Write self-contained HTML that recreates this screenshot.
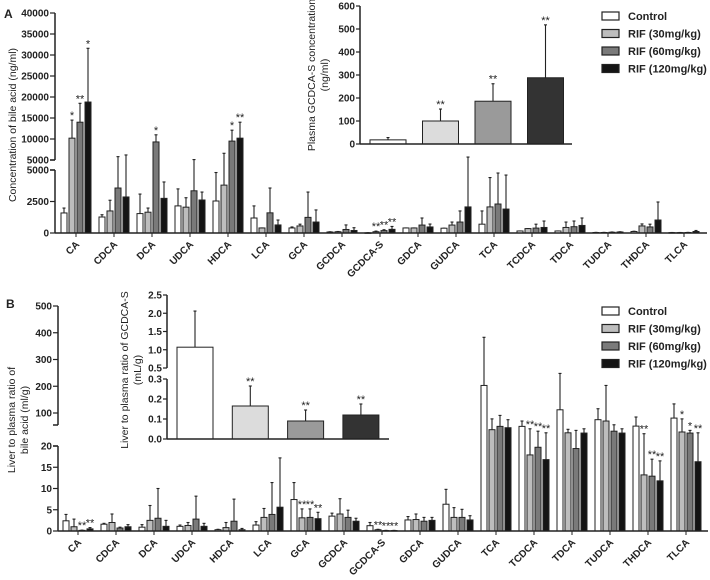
<!DOCTYPE html>
<html><head><meta charset="utf-8"><style>
body{margin:0;background:#fff;}
svg{display:block;font-family:"Liberation Sans",Arial,sans-serif;}
text{fill:#222;}
.tk{font-size:10px;font-weight:bold;text-anchor:end;}
.cat{font-size:10px;font-weight:bold;}
.lg{font-size:11px;font-weight:bold;}
.ttl{font-size:10.5px;}
</style></head><body>
<svg id="chart" width="710" height="580">
<text x="4" y="18" style="font-size:12px;font-weight:bold">A</text>
<text x="6" y="308" style="font-size:12px;font-weight:bold">B</text>
<g id="g"></g>
</svg>
<script>
const categories=["CA","CDCA","DCA","UDCA","HDCA","LCA","GCA","GCDCA","GCDCA-S","GDCA","GUDCA","TCA","TCDCA","TDCA","TUDCA","THDCA","TLCA"];
const groups=["Control","RIF (30mg/kg)","RIF (60mg/kg)","RIF (120mg/kg)"];
// Panel A plasma concentrations (ng/ml): mean and mean+SD per group
const aCtrl=[1590,1270,1540,2150,2540,1190,400,80,15,400,380,700,160,160,40,120,30];
const aCtrlErr=[1980,1450,3090,3500,4800,2150,480,100,25,400,380,1750,160,160,50,140,40];
const a30=[10200,1750,1650,2050,3800,400,560,100,100,400,630,2070,350,440,40,560,30];
const a30Err=[14500,2600,1980,2800,6600,400,700,120,150,400,870,4400,350,870,50,720,40];
const a60=[14000,3570,9300,3350,9500,1600,1240,280,190,630,870,2300,390,500,60,480,40];
const a60Err=[18500,5800,11000,5100,12100,3570,3250,640,260,1190,1750,4760,700,950,80,700,50];
const a120=[18800,2860,2750,2620,10200,640,870,200,290,480,2070,1900,440,600,80,1030,120];
const a120Err=[31600,6200,4050,3250,14000,1030,1830,420,520,710,5700,4600,950,1190,100,2460,200];
const aStars=[["","*","**","*"],["","","",""],["","","*",""],["","","",""],["","","*","**"],["","","",""],["","","",""],["","","",""],["","**","**","**"],["","","",""],["","","",""],["","","",""],["","","",""],["","","",""],["","","",""],["","","",""],["","","",""]];
// Panel B liver/plasma ratio (ml/g)
const bCtrl=[2.4,1.6,0.9,1.1,0.3,1.4,7.4,3.5,1.25,2.6,6.3,203,50,112,75,51,81];
const bCtrlErr=[3.9,1.8,1.5,1.4,0.4,2.2,11.4,4.2,2.0,3.4,9.8,383,70,248,116,85,134];
const b30=[1.0,2.0,2.5,1.3,0.8,3.2,3.1,4.0,0.3,2.7,3.2,37.6,17.9,26,70,13.2,29];
const b30Err=[2.8,4.0,6.0,2.0,2.0,5.3,5.2,7.6,0.4,4.0,5.5,78,41,39,203,22.6,78];
const b60=[0.15,0.7,3.0,2.8,2.3,3.9,3.2,3.2,0.1,2.3,3.2,50,19.7,19.4,32,12.9,25];
const b60Err=[0.2,0.9,10.0,8.2,7.5,11.4,5.2,4.9,0.15,3.2,5.1,91,32,35,56,16.9,35];
const b120=[0.5,1.0,1.1,1.1,0.3,5.6,2.9,2.3,0.1,2.5,2.6,45,16.8,25,25,11.8,16.3];
const b120Err=[0.8,1.5,2.5,1.8,0.6,17.2,4.4,3.0,0.15,3.2,3.6,75,26,41,41,16.5,26];
const bStars=[["","","**","**"],["","","",""],["","","",""],["","","",""],["","","",""],["","","",""],["","**","**","**"],["","","",""],["","**","**","**"],["","","",""],["","","",""],["","","",""],["","**","**","**"],["","","",""],["","","",""],["","**","**","**"],["","*","*","**"]];
// Inset A: plasma GCDCA-S (ng/ml)
const insA=[18,100,186,288];
const insAErr=[28,152,262,518];
const insAStars=["","**","**","**"];
const insATicks=[0,100,200,300,400,500,600];
// Inset B: liver to plasma ratio of GCDCA-S (mL/g)
const insB=[1.07,0.165,0.09,0.12];
const insBErr=[2.06,0.265,0.145,0.175];
const insBStars=["","**","**","**"];
const insBTicksLow=[0.0,0.1,0.2,0.3];
const insBTicksHigh=[0.5,1.0,1.5,2.0,2.5];
const aTicksLow=[0,2500,5000];
const aTicksHigh=[5000,10000,15000,20000,25000,30000,35000,40000];
const bTicksLow=[0,5,10,15,20];
const bTicksHigh=[100,200,300,400,500];

const NS="http://www.w3.org/2000/svg";
const G=document.getElementById('g');
function mk(tag,attrs,parent){const e=document.createElementNS(NS,tag);for(const k in attrs)e.setAttribute(k,attrs[k]);(parent||G).appendChild(e);return e;}
const mainFill=["#ffffff","#bdbdbd","#7a7a7a","#141414"];
const insFill=["#ffffff","#dcdcdc","#9a9a9a","#333333"];

// axis functions
function yA(v){return v<=5000?233-v*63/5000:160-(v-5000)*147/35000;}
function yB(v){return v<=20?531-v*85/20:434.4-(v-20)*0.2675;}
function yIA(v){return 144-v*138/600;}
function yIB(v){return v<=0.3?439-v*200:368-(v-0.5)*36.5;}
function xCat(i,x0){return x0+i*38;}

function line(x1,y1,x2,y2,name,w){const l=mk('line',{x1,y1,x2,y2,stroke:'#222','stroke-width':w||1.2});return l;}
function txt(x,y,s,cls,name,extra){const t=mk('text',Object.assign({x,y,class:cls},extra||{}));t.textContent=s;return t;}

function drawBar(x,w,yTop,yBase,yErr,fill,name,star){
  line(x+w/2,yTop,x+w/2,yErr,name+'-error',1.1);
  line(x+w/2-1.5,yErr,x+w/2+1.5,yErr,name+'-cap',1.1);
  const r=mk('rect',{x,y:yTop,width:w,height:Math.max(0.5,yBase-yTop),fill,stroke:'#222','stroke-width':1});
  
  
  if(star){const t=txt(x+w/2,yErr-1,star,'','sig-star',{'text-anchor':'middle','font-size':'11'});}
}

function mainPanel(pre,series,errs,stars,yf,base,x0,axisX,axisEnd,lowTicks,highTicks,breakLow,breakHigh,labY){
  for(let i=0;i<categories.length;i++){
    const c=xCat(i,x0);
    for(let g=0;g<4;g++){
      const x=c-16+g*8+1;
      drawBar(x,6,yf(series[g][i]),base,yf(errs[g][i]),mainFill[g],pre+'-bar-'+categories[i].toLowerCase()+'-g'+g,stars[i][g]);
    }
    line(c,base,c,base+4,pre+'-x-tick',1);
    txt(c+4,base+12,categories[i],'cat',pre+'-category-label',{'text-anchor':'end',transform:`rotate(-45 ${c+4} ${base+12})`});
  }
  line(axisX,base,axisEnd,base,pre+'-x-axis',1.5);
  line(axisX,base,axisX,breakLow,pre+'-y-axis-lower',1.5);
  line(axisX,breakHigh,axisX,yf(highTicks[highTicks.length-1]),pre+'-y-axis-upper',1.5);
  line(axisX-5,breakLow,axisX,breakLow,pre+'-break',1.5);
  line(axisX-5,breakHigh,axisX,breakHigh,pre+'-break',1.5);
  lowTicks.forEach(v=>{const y=yf(v);line(axisX-5,y,axisX,y,pre+'-y-tick',1.2);txt(axisX-6,y+3.5,String(v),'tk',pre+'-y-tick-label');});
  highTicks.forEach(v=>{const y=(v===highTicks[0]&&pre==='a')?160:yf(v);line(axisX-5,y,axisX,y,pre+'-y-tick',1.2);txt(axisX-6,y+3.5,String(v),'tk',pre+'-y-tick-label');});
}

// Panel A
mainPanel('a',[aCtrl,a30,a60,a120],[aCtrlErr,a30Err,a60Err,a120Err],aStars,yA,233,76,55,707,aTicksLow.slice(0,2).concat([5000]),aTicksHigh,170,160);
txt(0,0,'Concentration of bile acid (ng/ml)','ttl','panel-a-y-axis-title',{transform:'translate(16,125) rotate(-90)','text-anchor':'middle'});
// Panel B
mainPanel('b',[bCtrl,b30,b60,b120],[bCtrlErr,b30Err,b60Err,b120Err],bStars,yB,531,78,58,708,bTicksLow,bTicksHigh,446,425);
txt(0,0,'Liver to plasma ratio of','ttl','panel-b-y-axis-title',{transform:'translate(15,420) rotate(-90)','text-anchor':'middle'});
txt(0,0,'bile acid (ml/g)','ttl','panel-b-y-axis-title-line2',{transform:'translate(28,420) rotate(-90)','text-anchor':'middle'});

// Inset A
(function(){
  const ax=360,base=144;
  for(let g=0;g<4;g++){const x=370+g*52.5;drawBar(x,36,yIA(insA[g]),base,yIA(insAErr[g]),insFill[g],'inset-a-bar-g'+g,insAStars[g]);}
  line(ax,base,572,base,'inset-a-x-axis',1.5);line(ax,base,ax,yIA(600),'inset-a-y-axis',1.5);
  insATicks.forEach(v=>{const y=yIA(v);line(ax-4,y,ax,y,'inset-a-y-tick',1.2);txt(ax-5,y+3.5,String(v),'tk','inset-a-y-tick-label');});
  txt(0,0,'Plasma GCDCA-S concentration','ttl','inset-a-y-axis-title',{transform:'translate(315,75) rotate(-90)','text-anchor':'middle','font-size':'10'});
  txt(0,0,'(ng/ml)','ttl','inset-a-y-axis-title-unit',{transform:'translate(328,75) rotate(-90)','text-anchor':'middle','font-size':'10'});
})();
// Inset B
(function(){
  const ax=167,base=439;
  for(let g=0;g<4;g++){const x=177+g*55.3;drawBar(x,36,yIB(insB[g]),base,yIB(insBErr[g]),insFill[g],'inset-b-bar-g'+g,insBStars[g]);}
  line(ax,base,389,base,'inset-b-x-axis',1.5);
  line(ax,base,ax,yIB(0.3)+0,'inset-b-y-axis-lower',1.5);
  line(ax,yIB(0.5),ax,yIB(2.5),'inset-b-y-axis-upper',1.5);
  insBTicksLow.forEach(v=>{const y=yIB(v);line(ax-4,y,ax,y,'inset-b-y-tick',1.2);txt(ax-5,y+3.5,v.toFixed(1),'tk','inset-b-y-tick-label');});
  insBTicksHigh.forEach(v=>{const y=yIB(v);line(ax-4,y,ax,y,'inset-b-y-tick',1.2);txt(ax-5,y+3.5,v.toFixed(1),'tk','inset-b-y-tick-label');});
  txt(0,0,'Liver to plasma ratio of GCDCA-S','ttl','inset-b-y-axis-title',{transform:'translate(128,370) rotate(-90)','text-anchor':'middle','font-size':'10'});
  txt(0,0,'(mL/g)','ttl','inset-b-y-axis-title-unit',{transform:'translate(141,370) rotate(-90)','text-anchor':'middle','font-size':'10'});
})();

// Legends
function legend(y0,pre){
  for(let g=0;g<4;g++){
    const y=y0+g*17.5;
    const r=mk('rect',{x:602,y:y-4,width:17,height:8,fill:mainFill[g],stroke:'#222','stroke-width':1.2});
    
    
    txt(628,y+4,groups[g],'lg',pre+'-legend-entry');
  }
}
legend(16,'a');
legend(311,'b');
</script>
</body></html>
